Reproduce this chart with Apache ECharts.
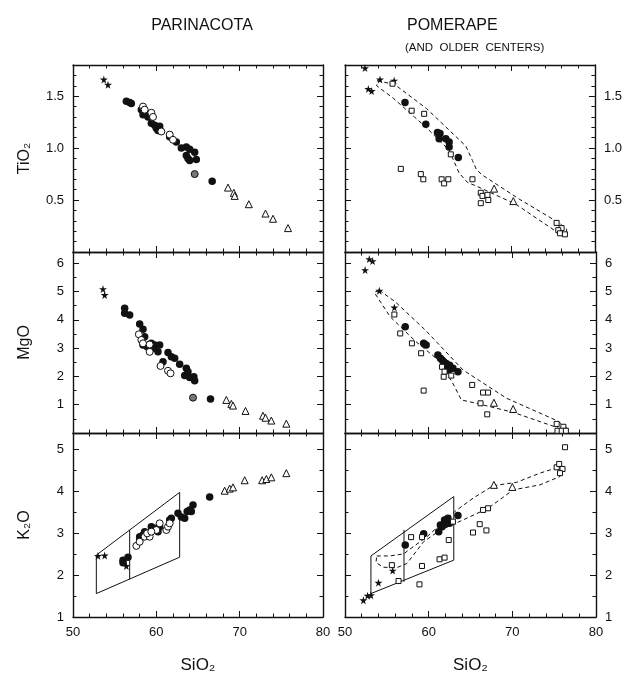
<!DOCTYPE html>
<html><head><meta charset="utf-8">
<script src="https://cdn.jsdelivr.net/npm/echarts@6/dist/echarts.min.js"></script>
<style>html,body{margin:0;padding:0;background:#fff}#c{width:625px;height:679px}</style>
</head><body><div id="c"></div>
<script>
// ---------- DATA ([SiO2, oxide wt%]) ----------
const xTickLabels = [50, 60, 70, 80];
const tiTickLabels = [0.5, 1.0, 1.5];
const mgTickLabels = [1, 2, 3, 4, 5, 6];
const kTickLabels = [1, 2, 3, 4, 5];

// Parinacota TiO2
const parTiStar = [[53.7,1.66],[54.2,1.61]];
const parTiFilled = [[56.4,1.45],[56.8,1.44],[57.0,1.43],[58.2,1.37],[58.4,1.32],[58.8,1.33],[59.0,1.30],[59.4,1.24],[59.8,1.22],[60.0,1.19],[60.4,1.21],[60.2,1.17],[61.6,1.11],[62.4,1.06],[63.0,1.00],[63.6,1.01],[64.0,0.99],[64.6,0.96],[63.6,0.93],[63.8,0.90],[64.0,0.88],[64.8,0.89],[66.7,0.68]];
const parTiOpen = [[58.4,1.40],[58.6,1.37],[59.4,1.34],[59.6,1.30],[60.6,1.16],[61.6,1.13],[62.0,1.08]];
const parTiHalf = [[64.6,0.75]];
const parTiTri = [[68.6,0.62],[69.3,0.57],[69.4,0.54],[71.1,0.46],[73.1,0.37],[74.0,0.32],[75.8,0.23]];

// Pomerape TiO2
const pomTiStar = [[52.4,1.77],[52.8,1.57],[53.2,1.55],[54.2,1.66],[55.9,1.65]];
const pomTiFilled = [[57.2,1.44],[59.7,1.23],[61.1,1.15],[61.4,1.14],[61.3,1.09],[62.1,1.09],[62.5,1.06],[62.5,1.01],[63.6,0.91]];
const pomTiSquare = [[55.7,1.62],[58.0,1.36],[59.5,1.33],[62.7,0.94],[56.7,0.80],[59.1,0.75],[59.4,0.70],[61.6,0.70],[61.9,0.66],[62.4,0.70],[65.3,0.70],[66.3,0.57],[66.5,0.54],[67.1,0.55],[67.2,0.50],[66.3,0.47],[75.4,0.28],[76.0,0.23],[75.6,0.21],[75.8,0.18],[76.4,0.17]];
const pomTiTri = [[67.9,0.61],[70.2,0.49]];
const pomTiEnvelope = [[53.9,1.65],[56.0,1.61],[59.8,1.38],[64.5,1.02],[65.3,0.88],[65.8,0.79],[66.5,0.74],[70.9,0.51],[75.7,0.28],[76.6,0.22],[76.6,0.16],[75.3,0.20],[70.5,0.46],[65.9,0.63],[64.7,0.67],[63.7,0.76],[62.5,0.98],[59.6,1.21],[55.8,1.48],[53.8,1.60],[53.9,1.65]];

// Parinacota MgO
const parMgStar = [[53.6,5.09],[53.8,4.88]];
const parMgFilled = [[56.2,4.41],[56.2,4.23],[56.8,4.17],[58.0,3.85],[58.4,3.67],[58.6,3.40],[58.4,3.11],[58.9,3.05],[59.4,3.17],[59.8,3.11],[60.2,2.87],[59.6,2.99],[60.4,3.11],[61.4,2.85],[61.8,2.70],[62.2,2.64],[60.8,2.52],[62.8,2.43],[63.6,2.29],[63.8,2.17],[63.4,2.03],[64.5,1.99],[64.6,1.85],[64.0,1.96],[66.5,1.20]];
const parMgOpen = [[57.9,3.49],[58.2,3.29],[58.4,3.17],[59.2,2.87],[59.2,3.13],[60.5,2.37],[61.4,2.20],[61.7,2.11]];
const parMgHalf = [[64.4,1.25]];
const parMgTri = [[68.4,1.17],[69.0,1.03],[69.2,0.97],[70.7,0.78],[72.8,0.61],[73.1,0.54],[73.8,0.44],[75.6,0.33]];

// Pomerape MgO
const pomMgStar = [[52.9,6.15],[53.3,6.08],[52.4,5.76],[54.1,5.03],[55.9,4.44]];
const pomMgFilled = [[57.2,3.76],[59.4,3.17],[59.7,3.11],[61.1,2.76],[61.4,2.64],[61.8,2.52],[62.1,2.46],[62.5,2.40],[62.9,2.29],[62.1,2.29],[62.4,2.23],[63.5,2.17],[61.6,2.58]];
const pomMgSquare = [[55.9,4.19],[56.6,3.52],[58.0,3.17],[59.1,2.82],[61.6,2.34],[61.8,1.99],[61.9,2.17],[62.7,2.03],[59.4,1.50],[65.2,1.70],[66.5,1.43],[67.1,1.43],[66.2,1.05],[67.0,0.66],[75.3,0.32],[76.1,0.22],[75.4,0.08],[75.9,0.08],[76.4,0.08]];
const pomMgTri = [[67.8,1.07],[70.1,0.85]];
const pomMgEnvelope = [[54.1,5.05],[56.0,4.64],[59.6,3.64],[64.1,2.23],[69.3,1.23],[75.3,0.44],[76.5,0.19],[76.2,0.02],[75.3,0.20],[70.1,0.73],[65.7,1.05],[63.9,1.17],[63.1,1.64],[61.4,2.52],[58.4,3.25],[55.4,4.11],[53.5,4.97],[54.1,5.05]];

// Parinacota K2O
const parKStar = [[53.0,2.46],[53.8,2.47],[56.4,2.22]];
const parKFilled = [[56.0,2.36],[56.6,2.43],[56.0,2.30],[58.0,2.92],[58.4,2.96],[58.6,3.04],[59.4,3.16],[59.8,3.12],[60.2,3.04],[60.4,3.16],[61.6,3.32],[61.8,3.36],[62.6,3.48],[63.0,3.39],[63.4,3.36],[63.7,3.52],[64.0,3.56],[64.4,3.68],[64.2,3.52],[66.4,3.87],[58.0,2.84]];
const parKOpen = [[57.6,2.70],[58.0,2.80],[58.6,2.92],[59.2,2.92],[58.9,3.00],[60.0,3.08],[60.4,3.24],[61.2,3.08],[61.4,3.16],[61.6,3.24],[59.4,3.04]];
const parKTri = [[68.2,4.02],[68.8,4.07],[69.2,4.10],[70.6,4.27],[72.7,4.27],[73.2,4.30],[73.8,4.34],[75.6,4.44]];
const parKBox = [[52.8,2.48],[62.8,3.98],[62.8,2.43],[52.8,1.56],[52.8,2.48]];
const parKDivider = [[56.8,3.08],[56.8,1.90]];

// Pomerape K2O
const pomKStar = [[52.2,1.40],[52.7,1.51],[53.1,1.52],[54.0,1.82],[55.7,2.11]];
const pomKFilled = [[57.2,2.72],[59.4,2.99],[61.2,3.04],[61.4,3.20],[61.6,3.16],[61.9,3.32],[62.3,3.36],[62.5,3.24],[63.5,3.43],[62.1,3.23]];
const pomKSquare = [[55.6,2.24],[56.4,1.86],[57.9,2.91],[59.2,2.91],[58.9,1.78],[59.2,2.22],[61.3,2.38],[61.9,2.42],[62.4,2.84],[62.9,3.28],[65.3,3.02],[66.1,3.22],[66.5,3.56],[67.1,3.60],[66.9,3.07],[75.3,4.58],[75.6,4.66],[76.0,4.54],[75.7,4.44],[76.3,5.06]];
const pomKTri = [[67.8,4.16],[70.0,4.11]];
const pomKBox = [[53.1,2.46],[63.0,3.88],[63.0,2.36],[53.1,1.56],[53.1,2.46]];
const pomKDivider = [[57.05,3.08],[57.05,1.84]];
const pomKEnvelope = [[53.8,2.46],[55.4,2.46],[57.0,2.51],[59.8,2.92],[63.1,3.52],[65.3,3.84],[67.7,4.14],[70.5,4.22],[73.3,4.44],[75.5,4.58],[76.0,4.48],[75.7,4.36],[73.3,4.16],[70.1,4.04],[67.1,3.60],[64.1,3.32],[61.4,3.08],[59.4,2.80],[57.4,2.28],[56.2,2.18],[54.6,2.19],[53.7,2.30],[53.8,2.46]];

// ---------- CHART ----------
const FONT = 'Liberation Sans';
const INK = '#111';
const STAR = 'path://M50,0 L61,35 L98,35 L68,57 L79,91 L50,70 L21,91 L32,57 L2,35 L39,35 Z';
const cols = [{left: 73, width: 250}, {left: 345, width: 251}];
const rows = [{top: 65, height: 187, min: 0, max: 1.8, interval: 0.5, minor: 5, labels: tiTickLabels, name: 'TiO\u2082'},
              {top: 252, height: 181, min: 0, max: 6.4, interval: 1, minor: 2, labels: mgTickLabels, name: 'MgO'},
              {top: 433, height: 184, min: 1, max: 5.4, interval: 1, minor: 2, labels: kTickLabels, name: 'K\u2082O'}];

const grids = [], xAxes = [], yAxes = [];
const tickBase = (len) => ({show: true, inside: true, length: len, lineStyle: {color: INK, width: 1}});
rows.forEach((r, ri) => {
  cols.forEach((c, ci) => {
    const gi = grids.length;
    grids.push({left: c.left, width: c.width, top: r.top, height: r.height, containLabel: false});
    const bottomRow = ri === 2;
    ['bottom', 'top'].forEach(pos => {
      xAxes.push({
        gridIndex: gi, type: 'value', min: 50, max: 80, interval: 10, position: pos,
        axisLine: {show: true, onZero: false, lineStyle: {color: INK, width: 1.4}},
        axisTick: tickBase(6), minorTick: {show: true, splitNumber: 5, length: 3.5, lineStyle: {color: INK, width: 1}},
        splitLine: {show: false},
        axisLabel: {show: pos === 'bottom' && bottomRow, margin: 9, fontFamily: FONT, fontSize: 13, color: INK,
          formatter: v => xTickLabels.includes(v) ? String(v) : ''},
        name: (pos === 'bottom' && bottomRow) ? 'SiO\u2082' : '', nameLocation: 'middle', nameGap: 40,
        nameTextStyle: {fontFamily: FONT, fontSize: 17, color: INK}
      });
    });
    ['left', 'right'].forEach(pos => {
      const showLab = (ci === 0 && pos === 'left') || (ci === 1 && pos === 'right');
      yAxes.push({
        gridIndex: gi, type: 'value', min: r.min, max: r.max, interval: r.interval, position: pos,
        axisLine: {show: true, onZero: false, lineStyle: {color: INK, width: 1.4}},
        axisTick: tickBase(6), minorTick: {show: true, splitNumber: r.minor, length: 3.5, lineStyle: {color: INK, width: 1}},
        splitLine: {show: false},
        axisLabel: {show: showLab, margin: 9, fontFamily: FONT, fontSize: 13, color: INK,
          formatter: v => {
            const hit = r.labels.find(l => Math.abs(l - v) < 1e-6);
            if (hit === undefined) return '';
            return r.interval < 1 ? hit.toFixed(1) : String(hit);
          }},
        name: (ci === 0 && pos === 'left') ? r.name : '', nameLocation: 'middle', nameGap: 40, nameRotate: 90,
        nameTextStyle: {fontFamily: FONT, fontSize: 16, color: INK}
      });
    });
  });
});

const series = [];
function pts(gi, data, kind) {
  const base = {type: 'scatter', xAxisIndex: gi * 2, yAxisIndex: gi * 2, data: data, z: 5, silent: true};
  if (kind === 'star') Object.assign(base, {symbol: STAR, symbolSize: 8, itemStyle: {color: INK, opacity: 1}});
  if (kind === 'filled') Object.assign(base, {symbol: 'circle', symbolSize: 7.5, itemStyle: {color: INK, opacity: 1}});
  if (kind === 'open') Object.assign(base, {symbol: 'circle', symbolSize: 7, itemStyle: {color: '#fff', borderColor: INK, borderWidth: 1, opacity: 1}, z: 6});
  if (kind === 'half') Object.assign(base, {symbol: 'circle', symbolSize: 7, itemStyle: {color: '#777', borderColor: INK, borderWidth: 1, opacity: 1}});
  if (kind === 'square') Object.assign(base, {symbol: 'rect', symbolSize: 5, itemStyle: {color: '#fff', borderColor: INK, borderWidth: 1, opacity: 1}, z: 6});
  if (kind === 'tri') Object.assign(base, {symbol: 'triangle', symbolSize: 7, itemStyle: {color: '#fff', borderColor: INK, borderWidth: 1, opacity: 1}});
  series.push(base);
}
function line(gi, data, dashed) {
  series.push({type: 'line', xAxisIndex: gi * 2, yAxisIndex: gi * 2, data: data, symbol: 'none', silent: true, z: 3,
    lineStyle: {color: INK, width: 1, type: dashed ? [4, 3] : 'solid'}});
}
// TiO2
pts(0, parTiStar, 'star'); pts(0, parTiFilled, 'filled'); pts(0, parTiOpen, 'open'); pts(0, parTiHalf, 'half'); pts(0, parTiTri, 'tri');
line(1, pomTiEnvelope, true);
pts(1, pomTiStar, 'star'); pts(1, pomTiFilled, 'filled'); pts(1, pomTiSquare, 'square'); pts(1, pomTiTri, 'tri');
// MgO
pts(2, parMgStar, 'star'); pts(2, parMgFilled, 'filled'); pts(2, parMgOpen, 'open'); pts(2, parMgHalf, 'half'); pts(2, parMgTri, 'tri');
line(3, pomMgEnvelope, true);
pts(3, pomMgStar, 'star'); pts(3, pomMgFilled, 'filled'); pts(3, pomMgSquare, 'square'); pts(3, pomMgTri, 'tri');
// K2O
line(4, parKBox, false); line(4, parKDivider, false);
pts(4, parKStar, 'star'); pts(4, parKFilled, 'filled'); pts(4, parKOpen, 'open'); pts(4, parKTri, 'tri');
line(5, pomKBox, false); line(5, pomKDivider, false); line(5, pomKEnvelope, true);
pts(5, pomKStar, 'star'); pts(5, pomKFilled, 'filled'); pts(5, pomKSquare, 'square'); pts(5, pomKTri, 'tri');

const chart = echarts.init(document.getElementById('c'), null, {renderer: 'canvas'});
chart.setOption({
  animation: false,
  backgroundColor: '#fff',
  title: [
    {text: 'PARINACOTA', left: 197, top: 13, textAlign: 'center', textStyle: {fontFamily: FONT, fontSize: 16, fontWeight: 'normal', color: INK}},
    {text: 'POMERAPE', left: 402, top: 13, textStyle: {fontFamily: FONT, fontSize: 16, fontWeight: 'normal', color: INK}},
    {text: '(AND  OLDER  CENTERS)', left: 400, top: 37, textStyle: {fontFamily: FONT, fontSize: 11.5, fontWeight: 'normal', color: INK}}
  ],
  grid: grids, xAxis: xAxes, yAxis: yAxes, series: series
});
</script></body></html>
